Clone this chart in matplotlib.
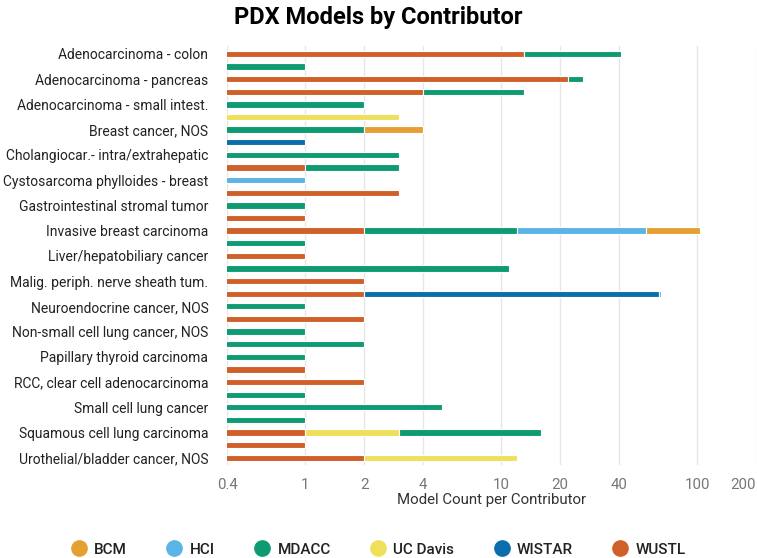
import matplotlib
matplotlib.use('Agg')
import matplotlib.pyplot as plt
from matplotlib.lines import Line2D
import numpy as np

plt.rcParams['font.family'] = ['Roboto', 'DejaVu Sans']

# one row per bar, labels shown on every other row
labels = ['Adenocarcinoma - colon', '', 'Adenocarcinoma - pancreas', '',
          'Adenocarcinoma - small intest.', '', 'Breast cancer, NOS', '',
          'Cholangiocar.- intra/extrahepatic', '', 'Cystosarcoma phylloides - breast', '',
          'Gastrointestinal stromal tumor', '', 'Invasive breast carcinoma', '',
          'Liver/hepatobiliary cancer', '', 'Malig. periph. nerve sheath tum.', '',
          'Neuroendocrine cancer, NOS', '', 'Non-small cell lung cancer, NOS', '',
          'Papillary thyroid carcinoma', '', 'RCC, clear cell adenocarcinoma', '',
          'Small cell lung cancer', '', 'Squamous cell lung carcinoma', '',
          'Urothelial/bladder cancer, NOS']

# counts per contributor for each row (stacked in this order)
wustl   = [13, 0, 22, 4, 0, 0, 0, 0, 0, 1, 0, 3, 0, 1, 2, 0, 1, 0, 2, 2, 0, 2, 0, 0, 0, 1, 2, 0, 0, 0, 1, 1, 2]
wistar  = [0, 0, 0, 0, 0, 0, 0, 1, 0, 0, 0, 0, 0, 0, 0, 0, 0, 0, 0, 62, 0, 0, 0, 0, 0, 0, 0, 0, 0, 0, 0, 0, 0]
ucdavis = [0, 0, 0, 0, 0, 3, 0, 0, 0, 0, 0, 0, 0, 0, 0, 0, 0, 0, 0, 0, 0, 0, 0, 0, 0, 0, 0, 0, 0, 0, 2, 0, 10]
mdacc   = [28, 1, 4, 9, 2, 0, 2, 0, 3, 2, 0, 0, 1, 0, 10, 1, 0, 11, 0, 0, 1, 0, 1, 2, 1, 0, 0, 1, 5, 1, 13, 0, 0]
hci     = [0, 0, 0, 0, 0, 0, 0, 0, 0, 0, 1, 0, 0, 0, 43, 0, 0, 0, 0, 1, 0, 0, 0, 0, 0, 0, 0, 0, 0, 0, 0, 0, 0]
bcm     = [0, 0, 0, 0, 0, 0, 2, 0, 0, 0, 0, 0, 0, 0, 48, 0, 0, 0, 0, 0, 0, 0, 0, 0, 0, 0, 0, 0, 0, 0, 0, 0, 0]

contributors = ['BCM', 'HCI', 'MDACC', 'UC Davis', 'WISTAR', 'WUSTL']
colors = {'BCM': '#E5A033', 'HCI': '#5AB4E5', 'MDACC': '#0E9B72',
          'UC Davis': '#EFE05C', 'WISTAR': '#0A6EAD', 'WUSTL': '#D0602A'}
stack = [('WUSTL', wustl), ('WISTAR', wistar), ('UC Davis', ucdavis),
         ('MDACC', mdacc), ('HCI', hci), ('BCM', bcm)]

xticks = [0.4, 1, 2, 4, 10, 20, 40, 100, 200]

fig = plt.figure(figsize=(7.57, 5.58), dpi=100)
ax = fig.add_axes([0.300, 0.166, 0.699, 0.751])
ax.set_xscale('log')

y = np.arange(len(labels))
left = np.zeros(len(labels))
for name, vals in stack:
    vals = np.array(vals, dtype=float)
    m = vals > 0
    start = np.where(left[m] > 0, left[m], 0.01)
    end = left[m] + vals[m]
    ax.barh(y[m], end - start, left=start, height=0.5,
            color=colors[name], edgecolor='white', linewidth=0.8, zorder=3)
    left = left + vals

ax.set_xlim(0.4, 200)
ax.set_ylim(len(labels) - 0.4, -0.6)
ax.set_xticks(xticks)
ax.set_xticklabels([str(t) for t in xticks])
ax.xaxis.set_minor_locator(matplotlib.ticker.NullLocator())
ax.get_xticklabels()[-1].set_horizontalalignment('right')
ax.set_yticks(y)
ax.set_yticklabels(labels, fontsize=10, color='#222222')
ax.tick_params(axis='both', length=0)
ax.tick_params(axis='x', labelsize=10.8, labelcolor='#777777', pad=9)
ax.tick_params(axis='y', pad=13.5)
ax.grid(axis='x', color='#e6e6e6', linewidth=1, zorder=0)
for s in ax.spines.values():
    s.set_visible(False)
ax.set_xlabel('Model Count per Contributor', fontsize=10.8, color='#333333', labelpad=1)

fig.suptitle('PDX Models by Contributor', fontsize=17, fontweight='bold', x=0.5, y=0.99)

handles = [Line2D([], [], marker='o', linestyle='', markersize=11,
                  markerfacecolor=colors[c], markeredgecolor=colors[c]) for c in contributors]
fig.legend(handles, contributors, loc='lower center', ncol=6, frameon=False,
           bbox_to_anchor=(0.5, -0.022), prop={'size': 11, 'weight': 'medium'},
           labelcolor='#222222', handlelength=1.0, handletextpad=0.5, columnspacing=2.6)

fig.savefig('out.png', dpi=100)
